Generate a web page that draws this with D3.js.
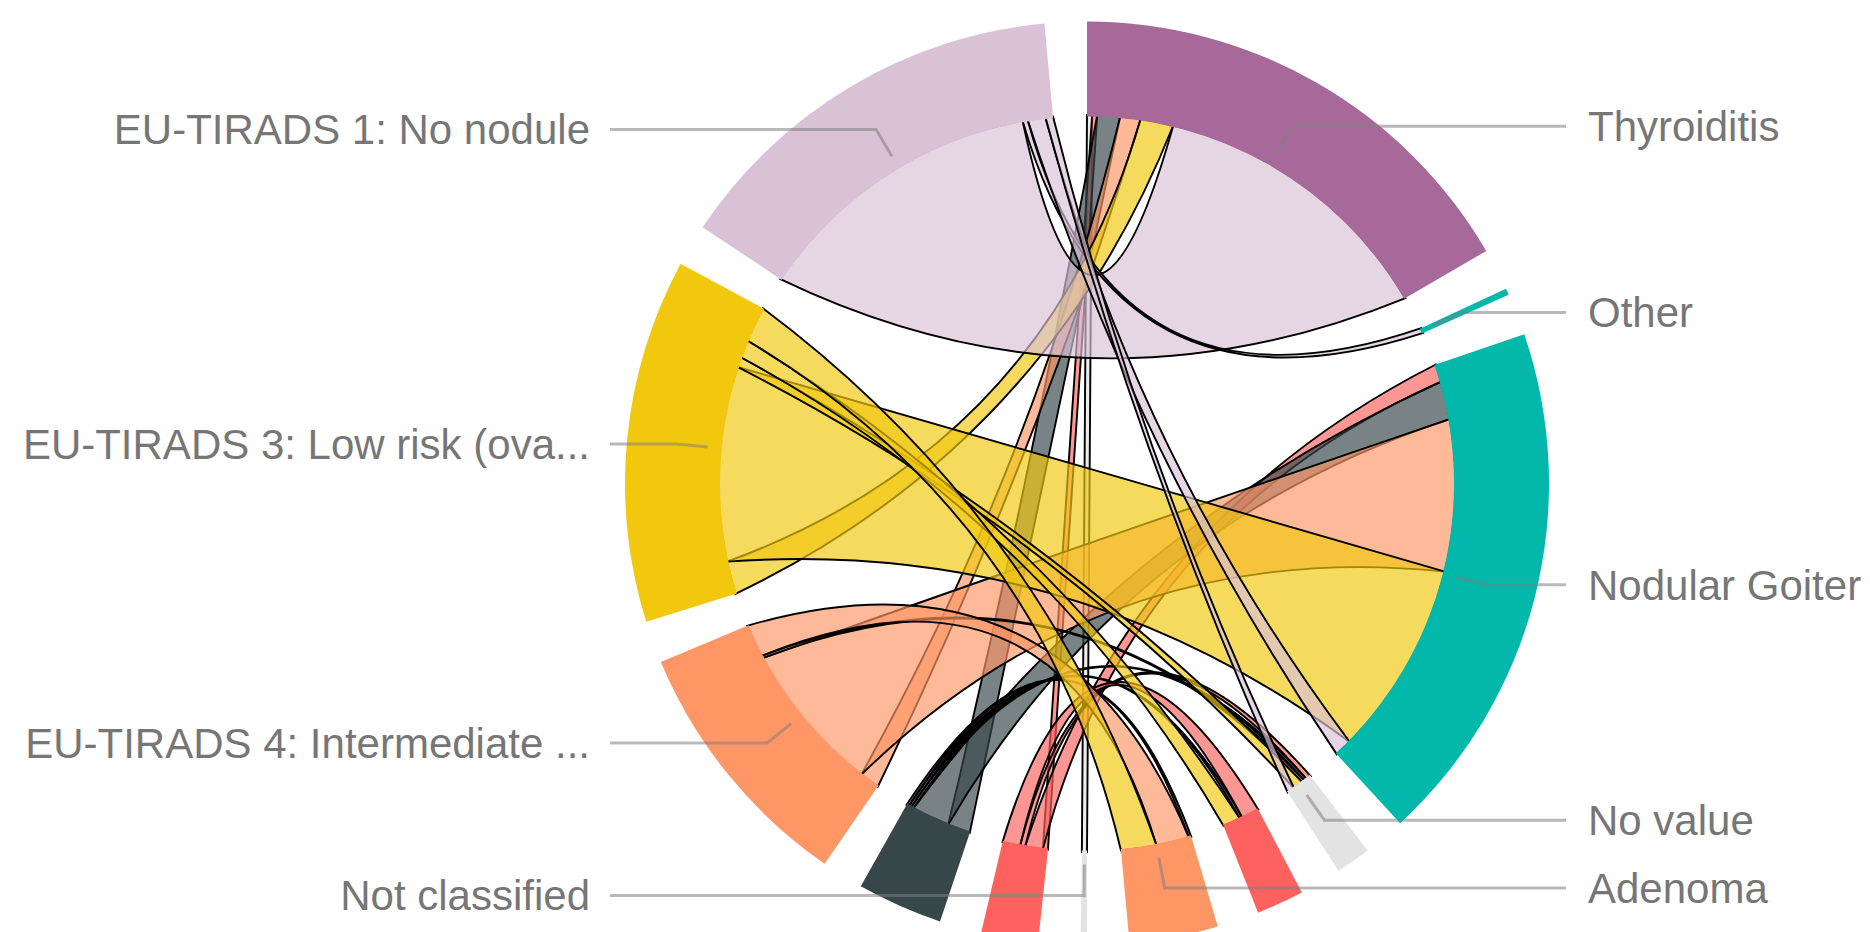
<!DOCTYPE html>
<html>
<head>
<meta charset="utf-8">
<script src="https://cdn.jsdelivr.net/npm/d3@7"></script>
<style>
  body { margin: 0; background: #fff; }
  svg { display: block; }
</style>
</head>
<body>
<script>
// diagnoses (right half, clockwise from the top)
var diagnoses = ['Thyroiditis', 'Other', 'Nodular Goiter', 'No value', 'Carcinoma', 'Adenoma'];
// EU-TIRADS classes (left half, clockwise from the bottom)
var tirads = ['Not classified', 'EU-TIRADS 5: High risk', 'EU-TIRADS 2: Benign',
  'EU-TIRADS 4: Intermediate ...', 'EU-TIRADS 3: Low risk (ova...', 'EU-TIRADS 1: No nodule'];

// patient counts per diagnosis, one array per EU-TIRADS class
var notClassified = [2, 0, 0, 0, 0, 0];
var tirads5 = [2, 0, 7, 2, 7, 0];
var tirads2 = [9, 0, 15, 1, 1, 1];
var tirads4 = [8, 0, 60, 1, 0, 13];
var tirads3 = [13, 0, 77, 4, 7, 14];
var tirads1 = [116, 2, 7, 3, 0, 0];

var diagColors = ['#a66999', '#01b8aa', '#01b8aa', '#e3e3e3', '#fd625e', '#fe9666'];
var tiradsColors = ['#e3e3e3', '#fd625e', '#374649', '#fe9666', '#f2c80f', '#d9c2d6'];
// the three small groups have no label in the original (overlapping)
var hideLabel = ['Carcinoma', 'EU-TIRADS 5: High risk', 'EU-TIRADS 2: Benign'];

var width = 1870, height = 932;
var cx = 1087, cy = 483.5;
var outerR = 462, innerR = 367;

var rows = [notClassified, tirads5, tirads2, tirads4, tirads3, tirads1];
var names = diagnoses.concat(tirads);
var colors = diagColors.concat(tiradsColors);
var nD = diagnoses.length, n = names.length;

// symmetric matrix for d3.chord
var matrix = [];
for (var i = 0; i < n; i++) {
  matrix.push(new Array(n).fill(0));
}
rows.forEach(function(row, t){
  row.forEach(function(v, d){
    matrix[d][nD + t] = v;
    matrix[nD + t][d] = v;
  });
});

var chords = d3.chord()
  .padAngle(5.29 * Math.PI / 180)(matrix);

var svg = d3.select('body').append('svg')
  .attr('width', width)
  .attr('height', height);

var g = svg.append('g')
  .attr('transform', 'translate(' + cx + ',' + cy + ')');

var arc = d3.arc()
  .innerRadius(innerR)
  .outerRadius(outerR);

// ribbons: like d3.ribbon, but the curve's control point sits a bit off
// the centre, towards the ends (flatter curves, as in the original)
var ribbonR = innerR + 1.5, pull = 56;
function ctrl(a, b){
  var sx = Math.cos(a) + Math.cos(b), sy = Math.sin(a) + Math.sin(b);
  var len = Math.sqrt(sx * sx + sy * sy);
  if (len < 1e-6) return [0, 0];
  var k = pull * Math.min(1, len / 0.3) / len;
  return [sx * k, sy * k];
}
function ribbon(d){
  var h = Math.PI / 2;
  var a0 = d.source.startAngle - h, a1 = d.source.endAngle - h;
  var b0 = d.target.startAngle - h, b1 = d.target.endAngle - h;
  var p = d3.path(), c;
  p.moveTo(ribbonR * Math.cos(a0), ribbonR * Math.sin(a0));
  p.arc(0, 0, ribbonR, a0, a1);
  c = ctrl(a1, b0);
  p.quadraticCurveTo(c[0], c[1], ribbonR * Math.cos(b0), ribbonR * Math.sin(b0));
  p.arc(0, 0, ribbonR, b0, b1);
  c = ctrl(b1, a0);
  p.quadraticCurveTo(c[0], c[1], ribbonR * Math.cos(a0), ribbonR * Math.sin(a0));
  p.closePath();
  return p.toString();
}

g.selectAll('path.ribbon')
  .data(chords)
  .enter()
  .append('path')
  .attr('class', 'ribbon')
  .attr('d', ribbon)
  .style('fill', function(d){ return colors[Math.max(d.source.index, d.target.index)]; })
  .style('fill-opacity', 0.67)
  .style('stroke', '#000')
  .style('stroke-width', 1.9);

g.selectAll('path.group')
  .data(chords.groups)
  .enter()
  .append('path')
  .attr('class', 'group')
  .attr('d', arc)
  .style('fill', function(d){ return colors[d.index]; });

// leader lines + labels
var lineR = 381, elbowR = 412;
var leftEnd = 610 - cx, rightEnd = 1566 - cx;

var labelled = chords.groups.filter(function(d){
  return hideLabel.indexOf(names[d.index]) < 0;
});

labelled.forEach(function(d){
  var a = (d.startAngle + d.endAngle) / 2;
  var x0 = lineR * Math.sin(a), y0 = -lineR * Math.cos(a);
  var x1 = elbowR * Math.sin(a), y1 = -elbowR * Math.cos(a);
  var right = a < Math.PI - 0.001;
  var x2 = right ? rightEnd : leftEnd;

  g.append('path')
    .attr('d', d3.line()([[x0, y0], [x1, y1], [x2, y1]]))
    .style('fill', 'none')
    .style('stroke', '#808080')
    .style('stroke-opacity', 0.55)
    .style('stroke-width', 3);

  g.append('text')
    .attr('x', right ? x2 + 22 : x2 - 20)
    .attr('y', y1)
    .attr('dy', '0.35em')
    .attr('text-anchor', right ? 'start' : 'end')
    .style('font-family', '"Liberation Sans", Arial, sans-serif')
    .style('font-size', '42px')
    .style('fill', '#767676')
    .text(names[d.index]);
});
</script>
</body>
</html>
